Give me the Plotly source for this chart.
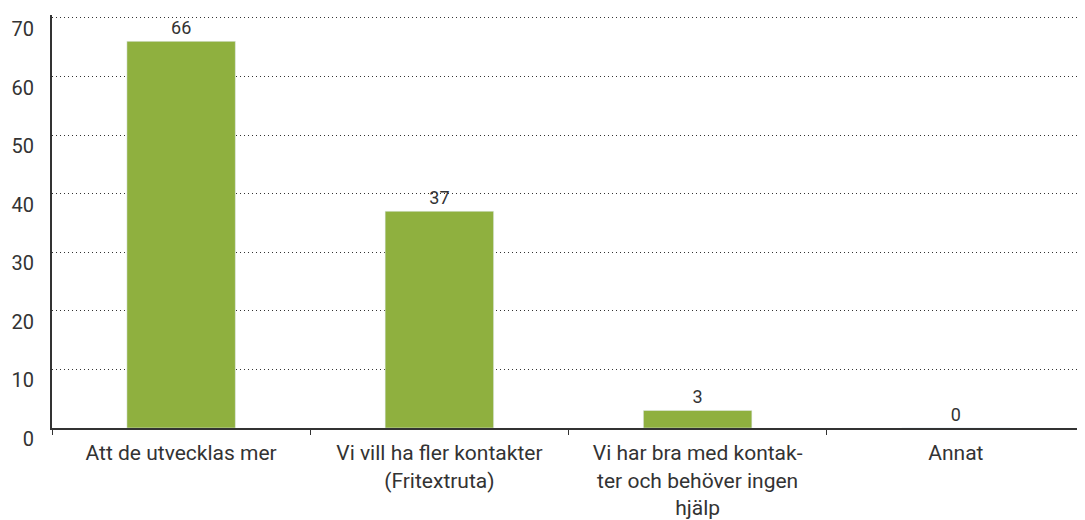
import plotly.graph_objects as go

categories = [
    "Att de utvecklas mer",
    "Vi vill ha fler kontakter<br>(Fritextruta)",
    "Vi har bra med kontak-<br>ter och behöver ingen<br>hjälp",
    "Annat",
]
values = [66, 37, 3, 0]
y_ticks = [0, 10, 20, 30, 40, 50, 60, 70]

fig = go.Figure(
    go.Bar(
        x=categories,
        y=values,
        marker_color="#8FB03F",
        width=0.42,
        text=[str(v) for v in values],
        textposition="outside",
        textfont=dict(size=18, color="#333333"),
        cliponaxis=False,
    )
)

# page body has an 8px margin, so the figure is drawn at (8, 8)
fig.update_layout(
    width=1077,
    height=512,
    margin=dict(l=44, r=0, t=7, b=92),
    plot_bgcolor="white",
    paper_bgcolor="white",
    font=dict(family="Roboto", color="#333333"),
    showlegend=False,
)
fig.update_xaxes(
    showline=True,
    linecolor="#333333",
    linewidth=2,
    ticks="outside",
    tickson="boundaries",
    ticklen=5,
    tickcolor="#333333",
    tickfont=dict(size=21, color="#333333"),
    ticklabelstandoff=5,
    showgrid=False,
    automargin=False,
)
fig.update_yaxes(
    range=[0, 70.5],
    tickvals=y_ticks,
    showline=True,
    linecolor="#333333",
    linewidth=2,
    showgrid=True,
    gridcolor="#333333",
    griddash="1px,3px",
    gridwidth=1.2,
    zeroline=False,
    tickfont=dict(size=20, color="#333333"),
    ticklabelstandoff=12,
    ticklabelshift=11,
    automargin=False,
)

fig.write_html("out.html")
